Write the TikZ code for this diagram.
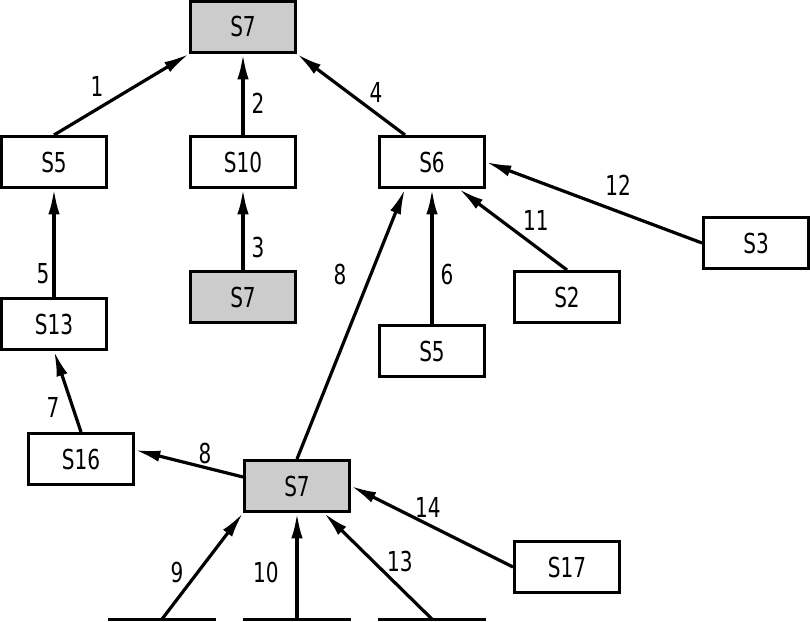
\documentclass[tikz,border=0pt]{standalone}
\usepackage{fontspec}
\setmainfont{DejaVu Sans}[FakeStretch=0.73]
\usetikzlibrary{calc,arrows.meta}
\definecolor{boxgray}{HTML}{CCCCCC}
\begin{document}
\begin{tikzpicture}[x=20.25pt,y=-20.25pt,
  box/.style={draw=black,line width=2pt,fill=white,minimum width=79pt,minimum height=38.5pt,inner sep=0pt,font=\fontsize{20.6}{24}\selectfont},
  graybox/.style={box,fill=boxgray},
  edge/.style={line width=2.4pt,-{Latex[length=19pt,width=8.5pt]}},
  lbl/.style={inner sep=0pt,font=\fontsize{20.6}{24}\selectfont}]
\useasboundingbox (0,0) rectangle (30,23);
% nodes
\node[graybox] (t)   at (9,1)   {S7};
\node[box]     (s5)  at (2,6)   {S5};
\node[box]     (s10) at (9,6)   {S10};
\node[box]     (s6)  at (16,6)  {S6};
\node[graybox] (m)   at (9,11)  {S7};
\node[box]     (s13) at (2,12)  {S13};
\node[box]     (s3)  at (28,9)  {S3};
\node[box]     (s2)  at (21,11) {S2};
\node[box]     (s5b) at (16,13) {S5};
\node[box]     (s16) at (3,17)  {S16};
\node[graybox] (b)   at (11,18) {S7};
\node[box]     (s17) at (21,21) {S17};
% free ends at the bottom
\coordinate (l1a) at (4,22.93);  \coordinate (l1b) at (8,22.93);
\coordinate (l2a) at (9,22.93);  \coordinate (l2b) at (13,22.93);
\coordinate (l3a) at (14,22.93); \coordinate (l3b) at (18,22.93);
\coordinate (p9)  at (6,22.93);
\coordinate (p10) at (11,22.93);
\coordinate (p13) at (16,22.93);
\draw[line width=2.4pt] (l1a) -- (l1b);
\draw[line width=2.4pt] (l2a) -- (l2b);
\draw[line width=2.4pt] (l3a) -- (l3b);
% edges
\draw[edge] (s5.north) -- (t.south west);
\draw[edge] (s10.north) -- (t.south);
\draw[edge] ($(s6.north west)!0.25!(s6.north east)$) -- (t.south east);
\draw[edge] (m.north) -- (s10.south);
\draw[edge] (s13.north) -- (s5.south);
\draw[edge] (s16.north) -- (s13.south);
\draw[edge] (b.north) -- ($(s6.south west)!0.25!(s6.south east)$);
\draw[edge] ($(b.north west)!0.333!(b.south west)$) -- ($(s16.north east)!0.333!(s16.south east)$);
\draw[edge] (s17.west) -- (b.east);
\draw[edge] (p9) -- (b.south west);
\draw[edge] (p10) -- (b.south);
\draw[edge] (p13) -- ($(b.south west)!0.75!(b.south east)$);
\draw[edge] (s5b.north) -- (s6.south);
\draw[edge] (s2.north) -- ($(s6.south west)!0.75!(s6.south east)$);
\draw[edge] (s3.west) -- (s6.east);
% labels
\node[lbl] (e1)  at (3.59,3.19)  {1};
\node[lbl] (e2)  at (9.56,3.81)  {2};
\node[lbl] (e4)  at (13.93,3.41) {4};
\node[lbl] (e3)  at (9.56,9.15)  {3};
\node[lbl] (e5)  at (1.59,10.15) {5};
\node[lbl] (e8a) at (12.59,10.15) {8};
\node[lbl] (e6)  at (16.56,10.15) {6};
\node[lbl] (e11) at (19.85,8.15) {11};
\node[lbl] (e12) at (22.89,6.85) {12};
\node[lbl] (e7)  at (1.96,15.11) {7};
\node[lbl] (e8b) at (7.59,16.78) {8};
\node[lbl] (e14) at (15.85,18.81) {14};
\node[lbl] (e9)  at (6.56,21.19) {9};
\node[lbl] (e10) at (9.85,21.19) {10};
\node[lbl] (e13) at (14.81,20.81) {13};
\end{tikzpicture}
\end{document}
